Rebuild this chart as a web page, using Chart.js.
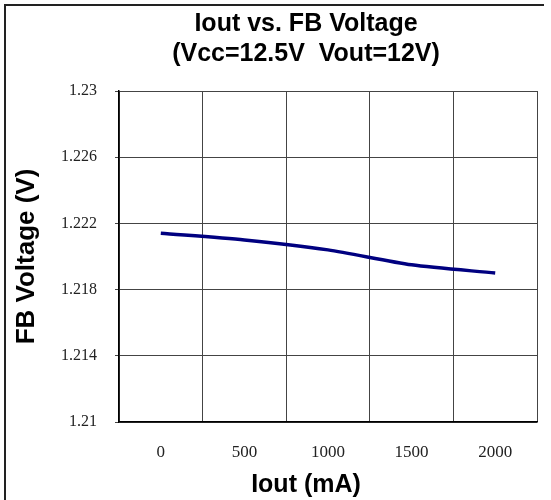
<!DOCTYPE html>
<html lang="en">
<head>
    <meta charset="UTF-8">
    <title>Iout vs. FB Voltage</title>
    <script src="https://cdn.jsdelivr.net/npm/chart.js"></script>
    <style>
        body {
            margin: 0;
            padding: 0;
            background-color: #fff;
            overflow: hidden;
        }

        .frame {
            position: absolute;
            left: 4px;
            top: 4px;
            width: 538px;
            height: 520px;
            border-top: 2px solid #222;
            border-left: 2px solid #222;
            pointer-events: none;
        }

        canvas {
            position: absolute;
            left: 0;
            top: 0;
        }
    </style>
</head>
<body>
    <canvas id="chart" width="551" height="500"></canvas>
    <div class="frame"></div>

    <script>
        // Iout in mA (category axis)
        const currents = ['0', '500', '1000', '1500', '2000'];
        // FB voltage in V
        const fbVoltage = [1.2214, 1.2210, 1.2204, 1.2195, 1.2190];
        // y axis tick values
        const yTicks = [1.21, 1.214, 1.218, 1.222, 1.226, 1.23];

        const titleLines = ['Iout vs. FB Voltage', '(Vcc=12.5V  Vout=12V)'];

        const tickFont = 'Liberation Serif, Times New Roman, serif';
        const fmtTick = v => Number(v.toFixed(3)).toString();

        // y labels are drawn mirrored (so they are not clipped to the narrow axis box),
        // so work out the widest label to push them back left of the axis
        const ctx = document.getElementById('chart').getContext('2d');
        ctx.font = '16px ' + tickFont;
        const widest = Math.max(...yTicks.map(v => ctx.measureText(fmtTick(v)).width));
        const labelRight = 97;   // where the right edge of the y labels should sit
        const axisLeft = 119;

        new Chart(ctx, {
            type: 'line',
            data: {
                labels: currents,
                datasets: [{
                    label: 'FB Voltage',
                    data: fbVoltage,
                    borderColor: '#000080',
                    borderWidth: 3.5,
                    pointRadius: 0,
                    tension: 0.25,
                    fill: false
                }]
            },
            options: {
                responsive: false,
                animation: false,
                layout: {
                    padding: { left: 75, right: 14, top: 0, bottom: 0 }
                },
                plugins: {
                    legend: { display: false },
                    tooltip: { enabled: false },
                    title: {
                        display: true,
                        text: titleLines,
                        color: '#000',
                        font: { family: 'Liberation Sans, Arial, sans-serif', size: 25, weight: 'bold', lineHeight: 1.2 },
                        padding: { top: 9, bottom: 22 }
                    },
                    subtitle: {
                        display: true,
                        position: 'bottom',
                        text: 'Iout (mA)',
                        color: '#000',
                        font: { family: 'Liberation Sans, Arial, sans-serif', size: 25, weight: 'bold', lineHeight: 1.2 },
                        padding: { top: 3, bottom: 0 }
                    }
                },
                scales: {
                    x: {
                        offset: true,
                        grid: {
                            offset: true,
                            color: '#444',
                            drawTicks: false
                        },
                        border: { color: '#000', width: 1.5 },
                        ticks: {
                            color: '#222',
                            padding: 20,
                            maxRotation: 0,
                            font: { family: tickFont, size: 17 }
                        },
                        afterFit: function(scale) {
                            scale.height = 45;
                        }
                    },
                    y: {
                        min: 1.21,
                        max: 1.23,
                        grid: {
                            color: '#444',
                            tickLength: 4
                        },
                        border: { color: '#000', width: 1.5 },
                        ticks: {
                            color: '#222',
                            mirror: true,
                            crossAlign: 'far',
                            padding: labelRight - axisLeft - widest,
                            font: { family: tickFont, size: 16 },
                            callback: function(value) {
                                return fmtTick(value);
                            }
                        },
                        afterBuildTicks: function(scale) {
                            scale.ticks = yTicks.map(v => ({ value: v }));
                        },
                        title: {
                            display: true,
                            text: 'FB Voltage (V)',
                            color: '#000',
                            font: { family: 'Liberation Sans, Arial, sans-serif', size: 26, weight: 'bold', lineHeight: 1.2 },
                            padding: { top: -64, bottom: 0 }
                        },
                        afterFit: function(scale) {
                            scale.width = 44;
                        }
                    }
                }
            }
        });
    </script>
</body>
</html>
